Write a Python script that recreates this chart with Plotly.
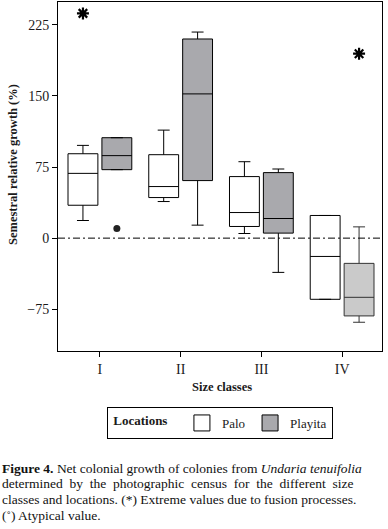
import plotly.graph_objects as go

# ---------------- data ----------------
categories = ["I", "II", "III", "IV"]

palo_lower = [18.6, 38.6, 4.9, -64.5]
palo_q1 = [34.7, 42.8, 12.3, -64.5]
palo_median = [68.3, 54.4, 27.0, -19.3]
palo_q3 = [89.0, 88.0, 64.9, 23.9]
palo_upper = [97.8, 113.9, 80.6, 23.9]

playita_lower = [72.2, 13.7, -36.1, -88.7]
playita_q1 = [72.2, 60.7, 5.3, -82.0]
playita_median = [87.0, 152.1, 20.7, -62.4]
playita_q3 = [105.9, 210.0, 69.1, -26.6]
playita_upper = [105.9, 217.3, 72.9, 11.9]

# extreme values (fusion processes)
extreme_class = ["I", "IV"]
extreme_location = ["Palo", "Playita"]
extreme_value = [237.0, 194.5]

# atypical value
atypical_class = ["I"]
atypical_location = ["Playita"]
atypical_value = [10.2]

y_ticks = [-75, 0, 75, 150, 225]

# ---------------- style ----------------
FONT = "Liberation Serif"
OFFSET = 0.21
BOX_W = 0.37
PALO_FILL = "white"
PLAYITA_FILL = "#a9a9ad"
PLAYITA_FILL_LIGHT = "#cacaca"

pos = {c: i + 1 for i, c in enumerate(categories)}
loc_shift = {"Palo": -OFFSET, "Playita": OFFSET}

fig = go.Figure()

# Palo boxes
fig.add_trace(go.Box(
    x=[pos[c] - OFFSET for c in categories],
    q1=palo_q1, median=palo_median, q3=palo_q3,
    lowerfence=palo_lower, upperfence=palo_upper,
    width=BOX_W, whiskerwidth=0.4, boxpoints=False,
    fillcolor=PALO_FILL, line=dict(color="black", width=1),
    showlegend=False, hoverinfo="skip",
))

# Playita boxes I-III
n = 3
fig.add_trace(go.Box(
    x=[pos[c] + OFFSET for c in categories[:n]],
    q1=playita_q1[:n], median=playita_median[:n], q3=playita_q3[:n],
    lowerfence=playita_lower[:n], upperfence=playita_upper[:n],
    width=BOX_W, whiskerwidth=0.4, boxpoints=False,
    fillcolor=PLAYITA_FILL, line=dict(color="black", width=1),
    showlegend=False, hoverinfo="skip",
))
# Playita box IV (lighter)
fig.add_trace(go.Box(
    x=[pos[c] + OFFSET for c in categories[n:]],
    q1=playita_q1[n:], median=playita_median[n:], q3=playita_q3[n:],
    lowerfence=playita_lower[n:], upperfence=playita_upper[n:],
    width=BOX_W, whiskerwidth=0.4, boxpoints=False,
    fillcolor=PLAYITA_FILL_LIGHT, line=dict(color="#333333", width=1),
    showlegend=False, hoverinfo="skip",
))

# extremes
fig.add_trace(go.Scatter(
    x=[pos[c] + loc_shift[l] for c, l in zip(extreme_class, extreme_location)],
    y=extreme_value, mode="markers",
    marker=dict(symbol="asterisk-open", size=10, color="black",
                line=dict(color="black", width=2.2)),
    showlegend=False, hoverinfo="skip",
))
# atypical
fig.add_trace(go.Scatter(
    x=[pos[c] + loc_shift[l] for c, l in zip(atypical_class, atypical_location)],
    y=atypical_value, mode="markers",
    marker=dict(symbol="circle", size=7, color="#222222"),
    showlegend=False, hoverinfo="skip",
))

# legend-only entries
for name, fill in [("Palo", PALO_FILL), ("Playita", PLAYITA_FILL)]:
    fig.add_trace(go.Scatter(
        x=[None], y=[None], mode="markers", name=name,
        marker=dict(symbol="square", size=17, color=fill, line=dict(color="black", width=1)),
    ))

# zero reference line
fig.add_shape(type="line", xref="paper", yref="y", x0=0, x1=1, y0=0, y1=0,
              line=dict(color="black", width=1, dash="7px,3px,2px,3px"))

PLOT_L, PLOT_W, PLOT_B, PLOT_H = 58, 324, 351, 349
def px_x(px):
    return (px - PLOT_L) / PLOT_W
def px_y(py):
    return (PLOT_B - py) / PLOT_H

# legend separator line
fig.add_shape(type="line", xref="paper", yref="paper",
              x0=px_x(182), x1=px_x(182), y0=px_y(407), y1=px_y(439),
              line=dict(color="black", width=1))

fig.update_layout(
    width=388, height=529,
    margin=dict(l=58, r=6, t=2, b=178, autoexpand=False),
    paper_bgcolor="white", plot_bgcolor="white",
    font=dict(family=FONT, color="#1a1a1a", size=13),
    showlegend=True,
    legend=dict(
        orientation="h", x=px_x(107), y=px_y(407), xanchor="left", yanchor="top",
        title=dict(text="&nbsp;<b>Locations</b>&nbsp;&nbsp;", side="left",
                   font=dict(size=13, family=FONT)),
        bordercolor="black", borderwidth=1, bgcolor="white",
        font=dict(size=13, family=FONT), itemsizing="trace",
    ),
    xaxis=dict(
        range=[0.481, 4.494], tickmode="array",
        tickvals=[pos[c] for c in categories], ticktext=categories,
        showline=True, mirror=True, linecolor="black", linewidth=1,
        ticks="outside", ticklen=5, tickcolor="black",
        showgrid=False, zeroline=False,
        tickfont=dict(size=14, family=FONT),
    ),
    yaxis=dict(
        range=[-119, 249], tickmode="array", tickvals=y_ticks,
        showline=True, mirror=True, linecolor="black", linewidth=1,
        ticks="outside", ticklen=5, tickcolor="black",
        showgrid=False, zeroline=False,
        tickfont=dict(size=14, family=FONT),
    ),
)

# axis titles
fig.add_annotation(text="<b>Semestral relative growth (%)</b>", textangle=-90,
                   xref="paper", yref="paper", x=px_x(13), y=px_y(165),
                   xanchor="center", yanchor="middle", showarrow=False,
                   font=dict(size=12.5, family=FONT))
fig.add_annotation(text="<b>Size classes</b>",
                   xref="paper", yref="paper", x=px_x(222), y=px_y(387),
                   xanchor="center", yanchor="middle", showarrow=False,
                   font=dict(size=12.5, family=FONT))

caption_lines = [
    "<b>Figure 4.</b> Net colonial growth of colonies from <i>Undaria tenuifolia</i>",
    "determined  by  the  photographic  census  for  the  different  size",
    "classes and locations. (*) Extreme values due to fusion processes.",
    "(˚) Atypical value.",
]
caption_y = [468, 484, 499, 515]
for line, cy in zip(caption_lines, caption_y):
    fig.add_annotation(text=line, xref="paper", yref="paper",
                       x=px_x(0), y=px_y(cy), xanchor="left", yanchor="middle",
                       showarrow=False, align="left",
                       font=dict(size=13.5, family=FONT, color="#111111"))

fig.write_html("out.html", config={"displayModeBar": False},
               post_script="document.body.style.margin='0';document.body.style.overflow='hidden';")
